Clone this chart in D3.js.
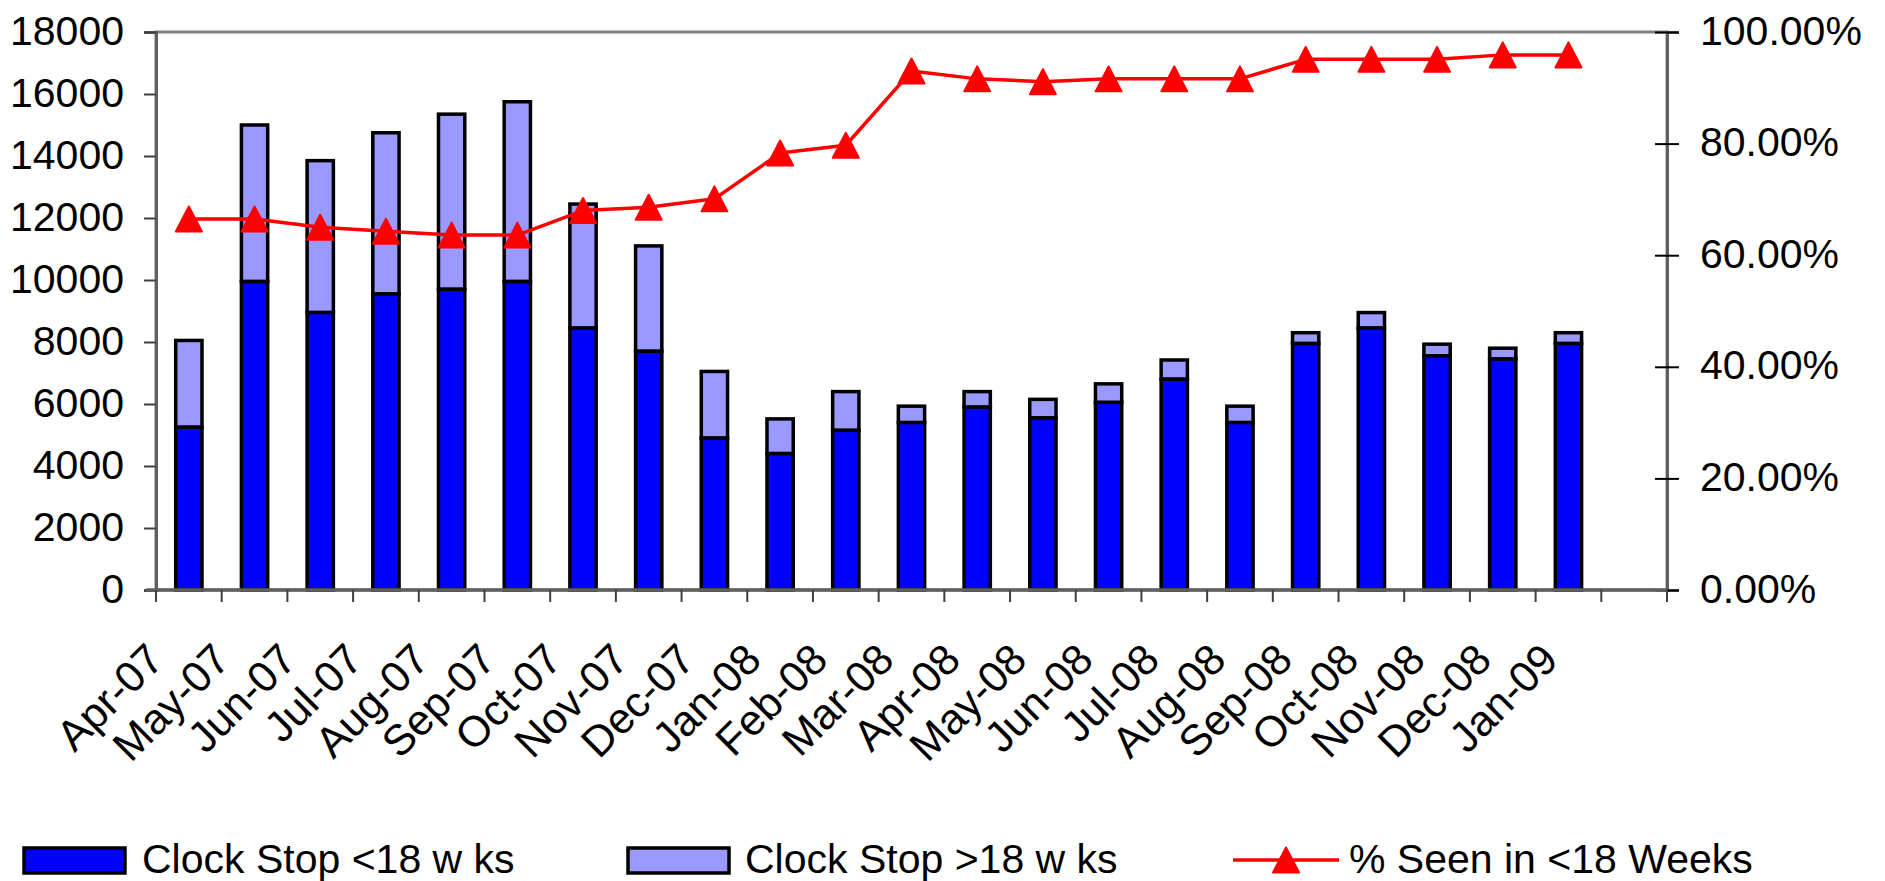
<!DOCTYPE html>
<html>
<head>
<meta charset="utf-8">
<script src="https://cdn.jsdelivr.net/npm/d3@7"></script>
<style>
  html, body { margin: 0; padding: 0; background: #fff; }
  svg { display: block; }
  text { font-family: "Liberation Sans", Arial, sans-serif; fill: #000; }
</style>
</head>
<body>
<svg id="chart" width="1885" height="881"></svg>
<script>
// ---- data ----
const categories = ["Apr-07","May-07","Jun-07","Jul-07","Aug-07","Sep-07","Oct-07","Nov-07","Dec-07",
  "Jan-08","Feb-08","Mar-08","Apr-08","May-08","Jun-08","Jul-08","Aug-08","Sep-08","Oct-08","Nov-08","Dec-08","Jan-09"];
const under18 = [5250, 9950, 8950, 9550, 9700, 9950, 8450, 7700, 4900, 4400, 5150, 5400, 5900, 5550, 6050, 6800, 5400, 7950, 8450, 7550, 7450, 7950];
const over18  = [2800, 5050, 4900, 5200, 5650, 5800, 4000, 3400, 2150, 1120, 1250, 530, 500, 600, 600, 620, 530, 350, 500, 380, 350, 350];
const pctSeen = [66.5, 66.5, 65.0, 64.3, 63.6, 63.6, 68.0, 68.6, 70.1, 78.3, 79.7, 93.0, 91.6, 91.1, 91.6, 91.6, 91.6, 95.1, 95.1, 95.1, 95.9, 95.9];
const leftTicks = [0, 2000, 4000, 6000, 8000, 10000, 12000, 14000, 16000, 18000];
const rightTicks = [0, 20, 40, 60, 80, 100];
const seriesNames = ["Clock Stop <18 w ks", "Clock Stop >18 w ks", "% Seen in <18 Weeks"];

// ---- layout ----
const L = 156, R = 1667, T = 32, B = 590;
const svg = d3.select("#chart");

const x = d3.scaleBand().domain(categories.concat([""])).range([L, R]).paddingInner(0).paddingOuter(0);
const yL = d3.scaleLinear().domain([0, 18000]).range([B, T]);
const yR = d3.scaleLinear().domain([0, 100]).range([B, T]);
const barW = x.bandwidth() * 0.4;

const colDark = "#0000ff", colLight = "#9999ff", colLine = "#ff0000";

// plot border
svg.append("rect").attr("x", L).attr("y", T).attr("width", R - L).attr("height", B - T)
  .attr("fill", "none").attr("stroke", "#808080").attr("stroke-width", 3);

// bars
const rows = categories.map((c, i) => ({ c, i, a: under18[i], b: over18[i], p: pctSeen[i] }));
const g = svg.append("g");
g.selectAll("rect.over").data(rows).join("rect").attr("class", "over")
  .attr("x", d => x(d.c) + x.bandwidth() / 2 - barW / 2)
  .attr("width", barW)
  .attr("y", d => yL(d.a + d.b))
  .attr("height", d => yL(d.a) - yL(d.a + d.b))
  .attr("fill", colLight).attr("stroke", "#000").attr("stroke-width", 3.5);
g.selectAll("rect.under").data(rows).join("rect").attr("class", "under")
  .attr("x", d => x(d.c) + x.bandwidth() / 2 - barW / 2)
  .attr("width", barW)
  .attr("y", d => yL(d.a))
  .attr("height", d => yL(0) - yL(d.a))
  .attr("fill", colDark).attr("stroke", "#000").attr("stroke-width", 3.5);

// left axis
const axL = d3.axisLeft(yL).tickValues(leftTicks).tickSize(12).tickPadding(20).tickFormat(d3.format("d"));
const gL = svg.append("g").attr("transform", `translate(${L},0)`).call(axL);
gL.select(".domain").attr("stroke", "#606060").attr("stroke-width", 3);
gL.selectAll(".tick line").attr("stroke", "#404040").attr("stroke-width", 2);
gL.selectAll(".tick text").attr("font-size", 41).attr("dy", null).attr("y", 0).attr("dominant-baseline", "auto")
  .attr("transform", "translate(0,12)").attr("font-family", "Liberation Sans, Arial, sans-serif");

// right axis
const axR = d3.axisRight(yR).tickValues(rightTicks).tickSize(12).tickPadding(21)
  .tickFormat(d => d3.format(".2f")(d) + "%");
const gR = svg.append("g").attr("transform", `translate(${R},0)`).call(axR);
gR.select(".domain").attr("stroke", "#606060").attr("stroke-width", 3);
gR.selectAll(".tick line").attr("x1", -12).attr("stroke", "#000").attr("stroke-width", 2);
gR.selectAll(".tick text").attr("font-size", 41).attr("dy", null).attr("dominant-baseline", "auto")
  .attr("transform", "translate(0,12)").attr("font-family", "Liberation Sans, Arial, sans-serif");

// bottom axis (ticks at band boundaries)
const boundaries = x.domain().map(d => x(d)).concat([R]);
svg.append("line").attr("x1", L - 10).attr("x2", R).attr("y1", B).attr("y2", B)
  .attr("stroke", "#606060").attr("stroke-width", 3.5);
svg.append("g").selectAll("line").data(boundaries).join("line")
  .attr("x1", d => d).attr("x2", d => d).attr("y1", B).attr("y2", B + 12)
  .attr("stroke", "#404040").attr("stroke-width", 2);

// category labels (rotated, end-anchored; Excel spaces them slightly wider than the bands)
svg.append("g").selectAll("text").data(rows).join("text")
  .attr("text-anchor", "end")
  .attr("font-size", 43)
  .attr("transform", d => `translate(${x(d.c) + x.bandwidth() / 2 - 23 + 0.7 * d.i},662) rotate(-45)`)
  .text(d => d.c);

// line + markers
const line = d3.line().x(d => x(d.c) + x.bandwidth() / 2).y(d => yR(d.p));
svg.append("path").datum(rows).attr("d", line).attr("fill", "none")
  .attr("stroke", colLine).attr("stroke-width", 3.5).attr("stroke-linejoin", "round");
const tri = "M0,-12.5 L13,12.5 L-13,12.5 Z";
svg.append("g").selectAll("path").data(rows).join("path")
  .attr("d", tri)
  .attr("transform", d => `translate(${x(d.c) + x.bandwidth() / 2},${yR(d.p)})`)
  .attr("fill", colLine).attr("stroke", colLine).attr("stroke-width", 2).attr("stroke-linejoin", "round");

// legend
const lg = svg.append("g");
const legY = 860;
lg.append("rect").attr("x", 24).attr("y", 848).attr("width", 101).attr("height", 25)
  .attr("fill", colDark).attr("stroke", "#000").attr("stroke-width", 3.5);
lg.append("text").attr("x", 142).attr("y", 873).attr("font-size", 41).text(seriesNames[0]);
lg.append("rect").attr("x", 628).attr("y", 848).attr("width", 101).attr("height", 25)
  .attr("fill", colLight).attr("stroke", "#000").attr("stroke-width", 3.5);
lg.append("text").attr("x", 745).attr("y", 873).attr("font-size", 41).text(seriesNames[1]);
lg.append("line").attr("x1", 1233).attr("x2", 1339).attr("y1", legY).attr("y2", legY)
  .attr("stroke", colLine).attr("stroke-width", 3.5);
lg.append("path").attr("d", tri).attr("transform", `translate(1286,${legY})`)
  .attr("fill", colLine).attr("stroke", colLine).attr("stroke-width", 2).attr("stroke-linejoin", "round");
lg.append("text").attr("x", 1349).attr("y", 873).attr("font-size", 41).text(seriesNames[2]);
</script>
</body>
</html>
